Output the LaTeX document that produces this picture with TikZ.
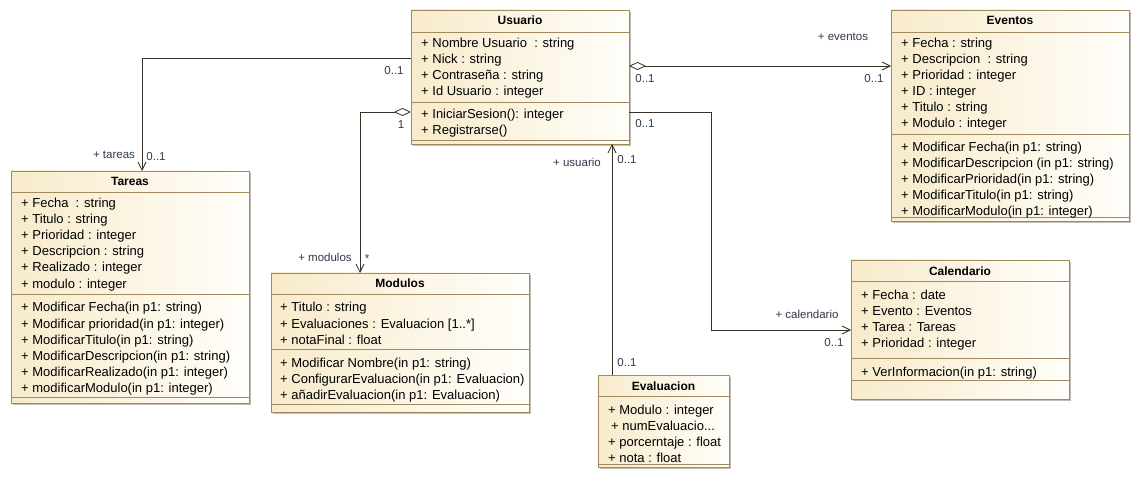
\documentclass[tikz,border=0pt]{standalone}
\usepackage{fontspec}
\setmainfont{Liberation Sans}
\usetikzlibrary{arrows.meta,shadows}

\definecolor{boxline}{HTML}{A08A5E}
\definecolor{boxleft}{HTML}{F8EBCB}
\definecolor{boxright}{HTML}{FFFEFA}
\definecolor{boxshadow}{HTML}{C4BFB2}
\definecolor{wire}{HTML}{3A3026}
\definecolor{multtext}{HTML}{33384A}
\newcommand\cutdots{...}

\begin{document}
\begin{tikzpicture}%
  [x=1pt,y=-1pt,
   umlbox/.style=
    {draw=boxline,line width=0.8pt,left color=boxleft,right color=boxright,
     anchor=north west,inner sep=0,outer sep=0,
     drop shadow={shadow xshift=2pt,shadow yshift=-2pt,fill=boxshadow,opacity=1}},
   title/.style={font=\bfseries\fontsize{12}{15}\selectfont,inner sep=0},
   row/.style=
    {anchor=west,inner sep=0,text height=11pt,text depth=1pt,
     font=\fontsize{13}{16}\selectfont},
   sep/.style={draw=boxline,line width=0.8pt},
   mult/.style={inner sep=0,text=multtext,font=\fontsize{11.5}{14}\selectfont},
   assoc/.style={draw=wire,line width=0.8pt,-{Straight Barb[length=8pt,width=8pt]}},
   aggr/.style={draw=wire,line width=0.8pt,
     {Diamond[open,length=17pt,width=8pt]}-{Straight Barb[length=8pt,width=8pt]}}
  ]
  \fill[white] (0,0) rectangle (1141,481);
  \useasboundingbox (0,0) rectangle (1141,481);

  % Usuario
  \node[umlbox,minimum width=218pt,minimum height=134pt] (usr) at (411,10) {};
  \node[title] (usrT) at (usr.north |- 0,20) {Usuario};
  \draw[sep] (usr.west |- 0,32) -- (usr.east |- 0,32);
  \draw[sep] (usr.west |- 0,102) -- (usr.east |- 0,102);
  \draw[sep] (usr.west |- 0,140) -- (usr.east |- 0,140);
  \foreach \txt [count=\i from 0] in
    {{+ Nombre Usuario\ \ : string},{+ Nick : string},
     {+ Contraseña : string},{+ Id Usuario : integer}}
    \node[row] (usrA\i) at (421,43+16*\i) {\txt};
  \foreach \txt [count=\i from 0] in
    {{+ IniciarSesion(): integer},{+ Registrarse()}}
    \node[row] (usrM\i) at (421,114+16*\i) {\txt};

  % Eventos
  \node[umlbox,minimum width=238pt,minimum height=211pt] (evt) at (891,10) {};
  \node[title] (evtT) at (evt.north |- 0,20) {Eventos};
  \draw[sep] (evt.west |- 0,32) -- (evt.east |- 0,32);
  \draw[sep] (evt.west |- 0,134) -- (evt.east |- 0,134);
  \draw[sep] (evt.west |- 0,217) -- (evt.east |- 0,217);
  \foreach \txt [count=\i from 0] in
    {{+ Fecha : string},{+ Descripcion\ \ : string},{+ Prioridad : integer},
     {+ ID : integer},{+ Titulo : string},{+ Modulo : integer}}
    \node[row] (evtA\i) at (901,43+16*\i) {\txt};
  \foreach \txt [count=\i from 0] in
    {{+ Modificar Fecha(in p1: string)},{+ ModificarDescripcion (in p1: string)},
     {+ ModificarPrioridad(in p1: string)},{+ ModificarTitulo(in p1: string)},
     {+ ModificarModulo(in p1: integer)}}
    \node[row] (evtM\i) at (901,147+16*\i) {\txt};

  % Tareas
  \node[umlbox,minimum width=238pt,minimum height=232pt] (tar) at (11,171) {};
  \node[title] (tarT) at (tar.north |- 0,181) {Tareas};
  \draw[sep] (tar.west |- 0,192) -- (tar.east |- 0,192);
  \draw[sep] (tar.west |- 0,294) -- (tar.east |- 0,294);
  \draw[sep] (tar.west |- 0,397) -- (tar.east |- 0,397);
  \foreach \txt [count=\i from 0] in
    {{+ Fecha\ \ : string},{+ Titulo : string},{+ Prioridad : integer},
     {+ Descripcion : string},{+ Realizado : integer},{+ modulo : integer}}
    \node[row] (tarA\i) at (21,203+16*\i) {\txt};
  \foreach \txt [count=\i from 0] in
    {{+ Modificar Fecha(in p1: string)},{+ Modificar prioridad(in p1: integer)},
     {+ ModificarTitulo(in p1: string)},{+ ModificarDescripcion(in p1: string)},
     {+ ModificarRealizado(in p1: integer)},{+ modificarModulo(in p1: integer)}}
    \node[row] (tarM\i) at (21,307+16*\i) {\txt};

  % Modulos
  \node[umlbox,minimum width=258pt,minimum height=139pt] (mod) at (271,273) {};
  \node[title] (modT) at (mod.north |- 0,283) {Modulos};
  \draw[sep] (mod.west |- 0,294) -- (mod.east |- 0,294);
  \draw[sep] (mod.west |- 0,349) -- (mod.east |- 0,349);
  \draw[sep] (mod.west |- 0,404) -- (mod.east |- 0,404);
  \foreach \txt [count=\i from 0] in
    {{+ Titulo : string},{+ Evaluaciones : Evaluacion [1..*]},
     {+ notaFinal : float}}
    \node[row] (modA\i) at (280,307+16*\i) {\txt};
  \foreach \txt [count=\i from 0] in
    {{+ Modificar Nombre(in p1: string)},
     {+ ConfigurarEvaluacion(in p1: Evaluacion)},
     {+ añadirEvaluacion(in p1: Evaluacion)}}
    \node[row] (modM\i) at (280,362+16*\i) {\txt};

  % Evaluacion
  \node[umlbox,minimum width=131pt,minimum height=92pt] (eva) at (598,375) {};
  \node[title] (evaT) at (eva.north |- 0,386) {Evaluacion};
  \draw[sep] (eva.west |- 0,396) -- (eva.east |- 0,396);
  \draw[sep] (eva.west |- 0,464) -- (eva.east |- 0,464);
  \foreach \txt [count=\i from 0] in
    {{+ Modulo : integer},{\hspace{3pt}+ numEvaluacio\cutdots},
     {+ porcerntaje : float},{+ nota : float}}
    \node[row] (evaA\i) at (608,409+16*\i) {\txt};

  % Calendario
  \node[umlbox,minimum width=218pt,minimum height=139pt] (cal) at (851,260) {};
  \node[title] (calT) at (cal.north |- 0,271) {Calendario};
  \draw[sep] (cal.west |- 0,281) -- (cal.east |- 0,281);
  \draw[sep] (cal.west |- 0,358) -- (cal.east |- 0,358);
  \draw[sep] (cal.west |- 0,380) -- (cal.east |- 0,380);
  \foreach \txt [count=\i from 0] in
    {{+ Fecha : date},{+ Evento : Eventos},{+ Tarea : Tareas},
     {+ Prioridad : integer}}
    \node[row] (calA\i) at (861,294+16*\i) {\txt};
  \node[row] (calM0) at (861,371) {+ VerInformacion(in p1: string)};

  % associations
  \draw[assoc] (usr.west |- 0,58) -| (tar.north -| 142,0);
  \node[mult] (m1) at (394,71) {0..1};
  \node[mult] (m2) at (114,155) {+ tareas};
  \node[mult] (m3) at (156,157) {0..1};

  \draw[aggr] (usr.west |- 0,112) -| (mod.north -| 360,0);
  \node[mult] (m4) at (401,125) {1};
  \node[mult] (m5) at (325,257) {+ modulos};
  \node[mult] (m6) at (367,259) {*};

  \draw[aggr] (usr.east |- 0,66) -- (evt.west |- 0,66);
  \node[mult] (m7) at (645,79) {0..1};
  \node[mult] (m8) at (843,37) {+ eventos};
  \node[mult] (m9) at (874,79) {0..1};

  \coordinate (calbend) at (711,330);
  \draw[assoc] (usr.east |- 0,112) -| (calbend) -- (cal.west |- calbend);
  \node[mult] (m10) at (645,124) {0..1};
  \node[mult] (m11) at (807,314) {+ calendario};
  \node[mult] (m12) at (834,343) {0..1};

  \draw[assoc] (eva.north -| 612,0) -- (usr.south -| 612,0);
  \node[mult] (m13) at (577,162) {+ usuario};
  \node[mult] (m14) at (627,160) {0..1};
  \node[mult] (m15) at (627,363) {0..1};
\end{tikzpicture}
\end{document}
